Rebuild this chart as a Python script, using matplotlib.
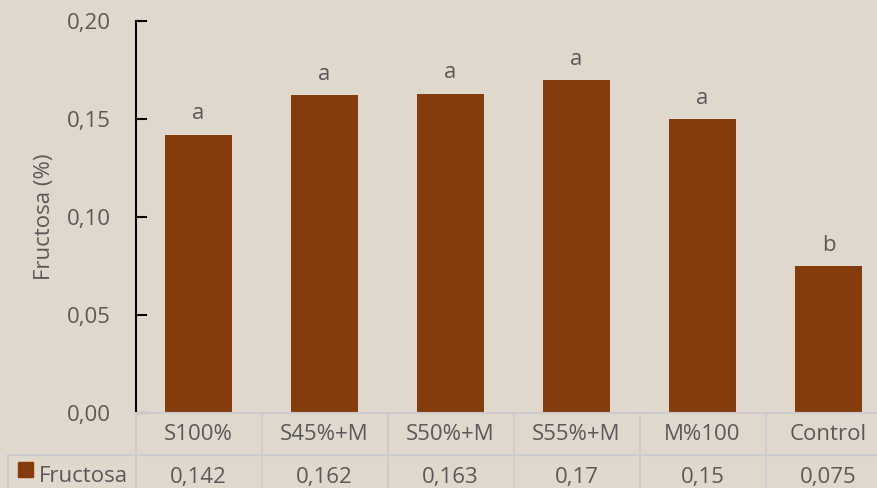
import matplotlib.pyplot as plt
import matplotlib.transforms as mtransforms

categories = ["S100%", "S45%+M", "S50%+M", "S55%+M", "M%100", "Control"]
fructosa = [0.142, 0.162, 0.163, 0.17, 0.15, 0.075]
table_labels = ["0,142", "0,162", "0,163", "0,17", "0,15", "0,075"]
letters = ["a", "a", "a", "a", "a", "b"]
yticks = [0.00, 0.05, 0.10, 0.15, 0.20]

bg = "#e1d8cd"
bar_color = "#843c0c"
txt = "#595959"
grid = "#cccccc"
fs = 16

plt.rcParams["font.family"] = ["Open Sans", "DejaVu Sans"]

W, H = 877, 488
fig = plt.figure(figsize=(W / 100, H / 100), dpi=100, facecolor=bg)
# axes run past the right edge, like the cropped original
ax = fig.add_axes([135.5 / W, (H - 413) / H, 756 / W, 392 / H])
ax.set_facecolor(bg)

x = list(range(len(categories)))
ax.bar(x, fructosa, width=0.53, color=bar_color, zorder=2)
for xi, v, l in zip(x, fructosa, letters):
    ax.annotate(l, (xi, v), xytext=(0, 11), textcoords="offset points",
                ha="center", va="baseline", fontsize=fs, color=txt)

ax.set_xlim(-0.5, 5.5)
ax.set_ylim(0, 0.2)
ax.set_yticks(yticks)
ax.set_yticklabels([f"{t:.2f}".replace(".", ",") for t in yticks])
ax.tick_params(axis="y", direction="in", length=8, width=1.5, color="black",
               labelsize=fs, labelcolor=txt, pad=18)
ax.set_xticks([])
for s in ["top", "right", "bottom"]:
    ax.spines[s].set_visible(False)
ax.spines["left"].set_linewidth(1.5)
ax.spines["left"].set_color("black")
ax.set_ylabel("Fructosa (%)", fontsize=fs, color=txt, labelpad=8)

# data table under the axis
tr = mtransforms.blended_transform_factory(ax.transData, ax.transAxes)
row1 = -42 / 392
row_bot = -90 / 392
lab_left = (8 - 135.5) / 756 * 6 - 0.5
ax.plot([-0.5, 5.5], [0, 0], color=grid, lw=1.5, transform=tr, clip_on=False, zorder=3)
ax.plot([lab_left, 5.5], [row1, row1], color=grid, lw=1.5, transform=tr, clip_on=False)
ax.plot([lab_left, lab_left], [row1, row_bot], color=grid, lw=1.5, transform=tr, clip_on=False)
for b in [i - 0.5 for i in range(len(categories))]:
    ax.plot([b, b], [0, row_bot], color=grid, lw=1.5, transform=tr, clip_on=False)
for xi, c, t in zip(x, categories, table_labels):
    ax.text(xi, row1 / 2, c, transform=tr, ha="center", va="center",
            fontsize=fs, color=txt)
    ax.text(xi, -64 / 392, t, transform=tr, ha="center", va="center",
            fontsize=fs, color=txt)

fig.patches.append(plt.Rectangle((18 / W, (H - 477) / H), 15 / W, 15 / H,
                                 transform=fig.transFigure, color=bar_color))
fig.text(39 / W, (H - 476) / H, "Fructosa", ha="left", va="center",
         fontsize=fs, color=txt)

fig.savefig("out.png", dpi=100, facecolor=bg)
